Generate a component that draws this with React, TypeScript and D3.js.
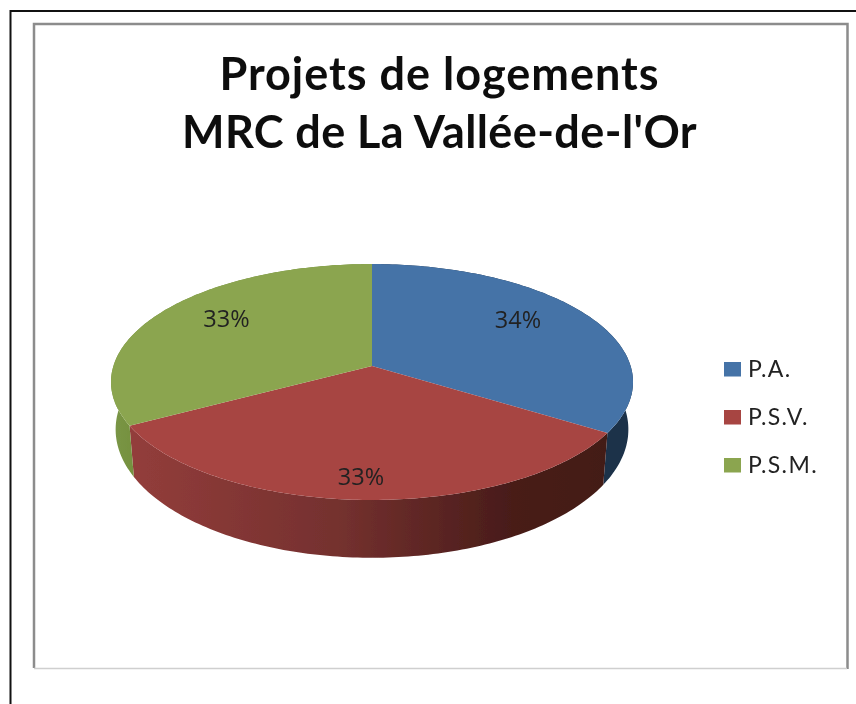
import React from "react";
import * as d3 from "d3";

const titleLines = ["Projets de logements", "MRC de La Vallée-de-l'Or"];
const categories = ["P.A.", "P.S.V.", "P.S.M."];
const values = [34, 33, 33];
const percentLabels = ["34%", "33%", "33%"];

const topColors = ["#4573a7", "#a74442", "#8ba54f"];
const wallStops = [
  [["0%", "#1b3048"], ["100%", "#1b3048"]],
  [["0%", "#933d3b"], ["45%", "#73302e"], ["80%", "#481c19"], ["100%", "#431a17"]],
  [["0%", "#7a9646"], ["100%", "#75903f"]],
];
const labelPos = [[518, 319], [361, 476], [226.5, 318]];
const legendY = [369, 417, 465];
const titleSpacing = [1, 0.4];

const K = 0.1356;
const topRim = { cx: 372, cy: 366, a: 258.6, b: 115.8 };
const bottomRim = { cx: 372, cy: 412, a: 254, b: 126 };

const project = (r: typeof topRim, angle: number): [number, number] => {
  const u = Math.sin(angle);
  const v = -Math.cos(angle);
  const d = 1 - K * v;
  return [r.cx + (r.a * u) / d, r.cy + (r.b * v) / d];
};

const line = d3.line();
const arcs = d3.pie<number>().sort(null)(values);

const samples = (a0: number, a1: number) => d3.range(0, 121).map((i) => a0 + ((a1 - a0) * i) / 120);

const topPath = (a0: number, a1: number) =>
  line([[topRim.cx, topRim.cy], ...samples(a0, a1).map((a) => project(topRim, a))])! + "Z";

const wallPath = (a0: number, a1: number) => {
  const s = samples(a0, a1);
  let p = "";
  for (let i = 0; i < s.length - 1; i++) {
    p +=
      line([
        project(topRim, s[i]),
        project(topRim, s[i + 1]),
        project(bottomRim, s[i + 1]),
        project(bottomRim, s[i]),
      ])! + "Z";
  }
  return p;
};

const font = "Lato, 'Open Sans', sans-serif";

export default function App() {
  return (
    <svg
      width={856}
      height={704}
      viewBox="0 0 856 704"
      style={{ position: "absolute", left: 0, top: 0, background: "#fff" }}
    >
      <defs>
        <filter id="soft" x="-5%" y="-5%" width="110%" height="110%">
          <feGaussianBlur stdDeviation={0.5} />
        </filter>
        {wallStops.map((stops, i) => (
          <linearGradient
            key={i}
            id={`wall${i}`}
            gradientUnits="userSpaceOnUse"
            x1={i === 1 ? 130 : i === 2 ? 112 : 560}
            x2={i === 1 ? 608 : i === 2 ? 135 : 632}
            y1={0}
            y2={0}
          >
            {stops.map(([o, c]) => (
              <stop key={o} offset={o} stopColor={c} />
            ))}
          </linearGradient>
        ))}
      </defs>

      <path d="M856,11 H10.5 V704" fill="none" stroke="#111" strokeWidth={2} />
      <path d="M34,668 V24 H847.5 V669" fill="none" stroke="#8c8c8c" strokeWidth={2.5} />
      <line x1={34} x2={847} y1={668.5} y2={668.5} stroke="#cfcfcf" strokeWidth={1.5} />

      <g filter="url(#soft)">
        <g fontFamily={font} fontWeight={700} fontSize={45} fill="#111" textAnchor="middle">
          {titleLines.map((t, i) => (
            <text key={t} x={439.5} y={90 + i * 57.5} letterSpacing={titleSpacing[i]}>
              {t}
            </text>
          ))}
        </g>

        {arcs.map((d, i) => (
          <path key={i} d={wallPath(d.startAngle, d.endAngle)} fill={`url(#wall${i})`} />
        ))}
        {arcs.map((d, i) => (
          <path key={i} d={topPath(d.startAngle, d.endAngle)} fill={topColors[i]} />
        ))}

        <g fontFamily="'Open Sans', sans-serif" fontSize={23.5} fill="#222" textAnchor="middle" dominantBaseline="central">
          {percentLabels.map((t, i) => (
            <text key={i} x={labelPos[i][0]} y={labelPos[i][1]}>
              {t}
            </text>
          ))}
        </g>

        {categories.map((c, i) => (
          <g key={c}>
            <rect x={724} y={legendY[i] - 7} width={17} height={14.5} fill={topColors[i]} />
            <text
              x={748}
              y={legendY[i] + 7.5}
              fontFamily={font}
              fontSize={23}
              letterSpacing={1.4}
              fill="#222"
            >
              {c}
            </text>
          </g>
        ))}
      </g>
    </svg>
  );
}
